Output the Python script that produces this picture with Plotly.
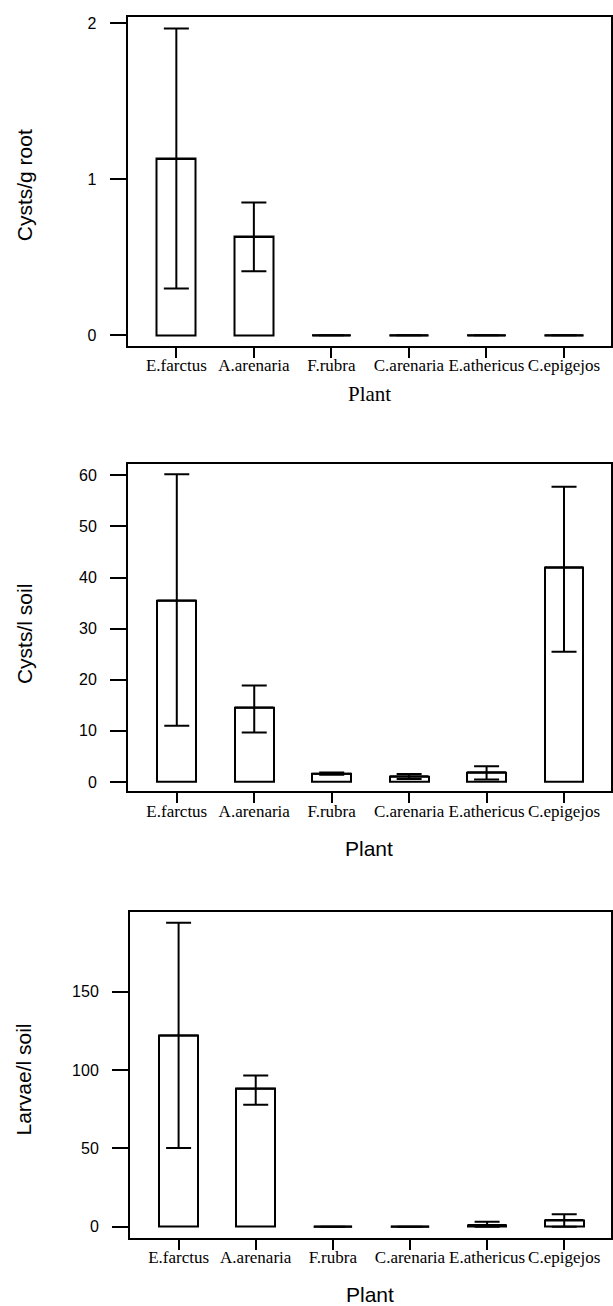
import plotly.graph_objects as go

plants = ["E.farctus", "A.arenaria", "F.rubra", "C.arenaria", "E.athericus", "C.epigejos"]

# Panel 1: Cysts/g root
root_mean = [1.13, 0.63, 0, 0, 0, 0]
root_upper = [1.965, 0.85, None, None, None, None]
root_lower = [0.30, 0.41, None, None, None, None]

# Panel 2: Cysts/l soil
soil_mean = [35.5, 14.6, 1.6, 1.1, 1.9, 42.0]
soil_upper = [60.2, 18.9, 1.85, 1.55, 3.1, 57.8]
soil_lower = [11.0, 9.7, 1.4, 0.6, 0.5, 25.5]

# Panel 3: Larvae/l soil
larv_mean = [122.0, 88.0, 0, 0, 1.0, 4.2]
larv_upper = [194.0, 96.5, None, None, 3.2, 7.9]
larv_lower = [50.3, 77.9, None, None, 0.0, 0.0]

y_titles = ["Cysts/g root", "Cysts/l soil", "Larvae/l soil"]
y_ticks = [[0, 1, 2], [0, 10, 20, 30, 40, 50, 60], [0, 50, 100, 150]]
y_ranges = [[-0.068, 2.036], [-1.8, 62.3], [-7.0, 201.1]]

W, H = 613, 1306
# pixel geometry of each frame: (left, right, top, bottom)
frames = [(127.5, 610.5, 14.5, 343.7), (128.0, 610.5, 461.7, 790.0), (130.0, 610.5, 910.7, 1237.5)]
x_title_y = [392, 847, 1294]
x_title_font = ["Liberation Serif", "Liberation Sans", "Liberation Sans"]
y_title_center = [182.7, 632.5, 1079.0]

data = [(root_mean, root_upper, root_lower), (soil_mean, soil_upper, soil_lower),
        (larv_mean, larv_upper, larv_lower)]

fig = go.Figure()
BW = 0.5
for k, (mean, up, lo) in enumerate(data):
    xa = "x" if k == 0 else f"x{k+1}"
    ya = "y" if k == 0 else f"y{k+1}"
    idx = list(range(len(plants)))
    plus = [(u - m) if u is not None else None for u, m in zip(up, mean)]
    minus = [(m - l) if l is not None else None for l, m in zip(lo, mean)]
    fig.add_trace(go.Bar(
        x=idx, y=mean, width=BW, xaxis=xa, yaxis=ya,
        marker=dict(color="white", line=dict(color="black", width=2)),
        error_y=dict(type="data", symmetric=False, array=plus, arrayminus=minus,
                     color="black", thickness=2, width=12.5),
        showlegend=False, hoverinfo="skip"))
    # top edge of each bar (makes zero-height bars visible as a line)
    sx, sy = [], []
    for i, m in enumerate(mean):
        sx += [i - BW / 2, i + BW / 2, None]
        sy += [m, m, None]
    fig.add_trace(go.Scatter(x=sx, y=sy, mode="lines", xaxis=xa, yaxis=ya,
                             line=dict(color="black", width=2),
                             showlegend=False, hoverinfo="skip"))

layout = dict(width=W, height=H, margin=dict(l=0, r=0, t=0, b=0),
              plot_bgcolor="white", paper_bgcolor="white", bargap=0)
annotations = []
for k in range(3):
    l, r, t, b = frames[k]
    xk = "xaxis" if k == 0 else f"xaxis{k+1}"
    yk = "yaxis" if k == 0 else f"yaxis{k+1}"
    ya = "y" if k == 0 else f"y{k+1}"
    xa = "x" if k == 0 else f"x{k+1}"
    layout[xk] = dict(domain=[l / W, r / W], anchor=ya, range=[-0.63, 5.6],
                      tickmode="array", tickvals=list(range(len(plants))), ticktext=plants,
                      ticks="outside", ticklen=10, tickwidth=1.5, tickcolor="black",
                      tickfont=dict(family="Liberation Serif", size=17, color="black"),
                      ticklabelstandoff=-7,
                      showline=True, linecolor="black", linewidth=2, mirror=True,
                      showgrid=False, zeroline=False, fixedrange=True)
    layout[yk] = dict(domain=[1 - b / H, 1 - t / H], anchor=xa, range=y_ranges[k],
                      tickmode="array", tickvals=y_ticks[k],
                      ticks="outside", ticklen=16, tickwidth=1.5, tickcolor="black",
                      tickfont=dict(family="Liberation Sans", size=16, color="black"),
                      ticklabelstandoff=10,
                      showline=True, linecolor="black", linewidth=2, mirror=True,
                      showgrid=False, zeroline=False, fixedrange=True)
    annotations.append(dict(text="Plant", xref="paper", yref="paper",
                            x=(l + r) / 2 / W, y=1 - x_title_y[k] / H,
                            xanchor="center", yanchor="middle", showarrow=False,
                            font=dict(family=x_title_font[k], size=21, color="black")))
    annotations.append(dict(text=y_titles[k], xref="paper", yref="paper",
                            x=24 / W, y=1 - y_title_center[k] / H, textangle=-90,
                            xanchor="center", yanchor="middle", showarrow=False,
                            font=dict(family="Liberation Sans", size=21, color="black")))
layout["annotations"] = annotations
fig.update_layout(**layout)
fig.write_html("out.html", config={"displayModeBar": False},
               post_script="document.body.style.margin='0';document.body.style.overflow='hidden';")
